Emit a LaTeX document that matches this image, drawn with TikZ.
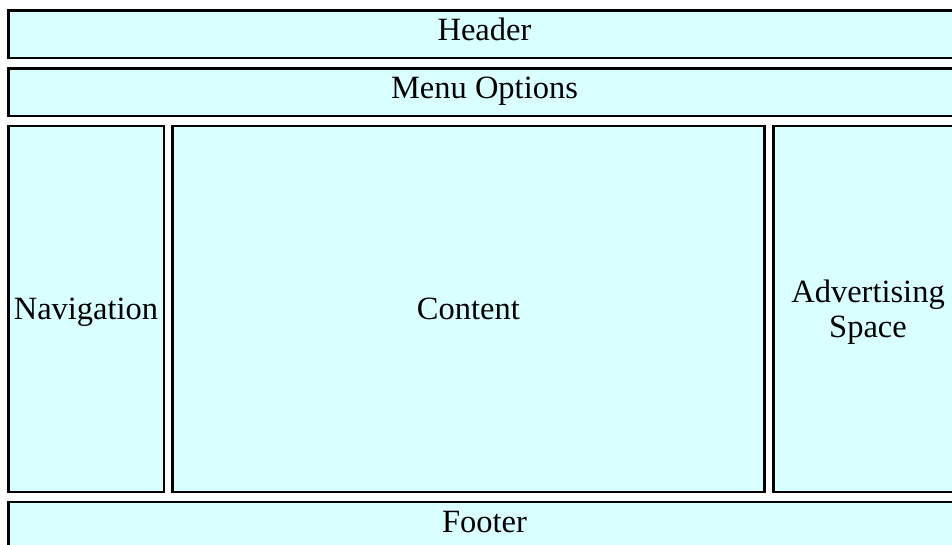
\documentclass[tikz,border=0pt]{standalone}
\usepackage{fontspec}
\setmainfont{Liberation Serif}
\definecolor{panelfill}{HTML}{D9FFFF}
\begin{document}
\begin{tikzpicture}[x=1pt,y=-1pt,
  panel/.style={draw=black,fill=panelfill,line width=2.4pt},
  caption/.style={anchor=base,inner sep=0pt,align=center,
    font=\fontsize{32.5}{34.5}\selectfont}]
  \useasboundingbox (0,0) rectangle (952,545);
  \clip (0,0) rectangle (952,545);
  % page regions
  \path[panel] (8.5,10.5)  rectangle (961,58.2);   % header
  \path[panel] (8.5,68.5)  rectangle (961,116);    % menu bar
  \path[panel] (8.5,126.2) rectangle (163.7,491.8);  % navigation column
  \path[panel] (172.5,126.2) rectangle (764.3,491.8);% content column
  \path[panel] (773.5,126.2) rectangle (961,491.8);  % advertising column
  \path[panel] (8.5,501.7) rectangle (961,560);    % footer
  % labels
  \node[caption] (header)  at (484.5,41)    {Header};
  \node[caption] (menu)    at (484.5,98.5)  {Menu Options};
  \node[caption] (nav)     at (86,319.5)    {Navigation};
  \node[caption] (content) at (468.4,319.5) {Content};
  \node[caption] (ad)      at (868,337)     {Advertising\\Space};
  \node[caption] (footer)  at (484.5,532.5) {Footer};
\end{tikzpicture}
\end{document}
